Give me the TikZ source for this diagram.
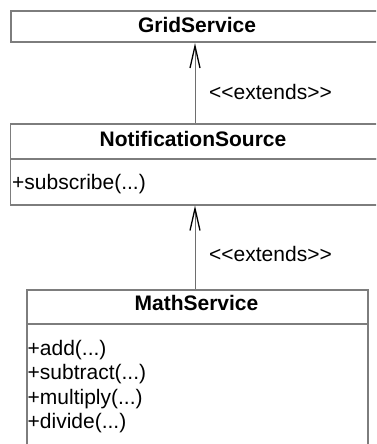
\documentclass[tikz,border=0pt]{standalone}
\usepackage{fontspec}
\setmainfont{Liberation Sans}[Ligatures=TeXOff]
\usetikzlibrary{arrows.meta}
\definecolor{boxline}{RGB}{125,125,125}
\definecolor{shaft}{RGB}{110,110,110}
\begin{document}
\begin{tikzpicture}[x=1pt,y=1pt,
  box/.style={draw=boxline, line width=1.6pt, rectangle, inner sep=0pt, anchor=north west},
  title/.style={font=\fontsize{21}{25}\selectfont\bfseries, inner sep=0pt, anchor=base},
  member/.style={font=\fontsize{21}{25}\selectfont, inner sep=0pt, anchor=base west},
  stereo/.style={font=\fontsize{21}{25}\selectfont, inner sep=0pt, anchor=base west},
  extarrow/.style={draw=shaft, line width=1pt, -{Straight Barb[length=22pt,width=10pt,color=black,line width=1.3pt]}}]
\useasboundingbox (0,0) rectangle (376,444);
\clip (0,0) rectangle (376,444);
% GridService
\node[box, minimum width=375pt, minimum height=31.5pt] (gridbox) at (10,434) {};
\node[title] (gridt) at (197,411.5) {GridService};
% NotificationSource
\node[box, minimum width=376pt, minimum height=35pt] (notifbox) at (9.5,321) {};
\node[box, minimum width=376pt, minimum height=46pt] (notifbody) at (9.5,286) {};
\node[title] (notift) at (193,297) {NotificationSource};
\node[member] (sub) at (12,254) {+subscribe(...)};
% MathService
\node[box, minimum width=341pt, minimum height=34pt] (mathbox) at (26,155) {};
\node[box, minimum width=341pt, minimum height=140pt] (mathbody) at (26,121) {};
\node[title] (matht) at (196.5,133) {MathService};
\node[member] (add) at (27.5,88.5) {+add(...)};
\node[member] (subt) at (27.5,64) {+subtract(...)};
\node[member] (mult) at (27.5,39.5) {+multiply(...)};
\node[member] (div) at (27.5,15) {+divide(...)};
% connectors
\coordinate (ax) at (195,0);
\draw[extarrow] (notifbox.north -| ax) -- (gridbox.south -| ax);
\draw[extarrow] (mathbox.north -| ax) -- (notifbody.south -| ax);
\node[stereo] (ext1) at (209,344.5) {<<extends>>};
\node[stereo] (ext2) at (209,182.5) {<<extends>>};
\end{tikzpicture}
\end{document}
